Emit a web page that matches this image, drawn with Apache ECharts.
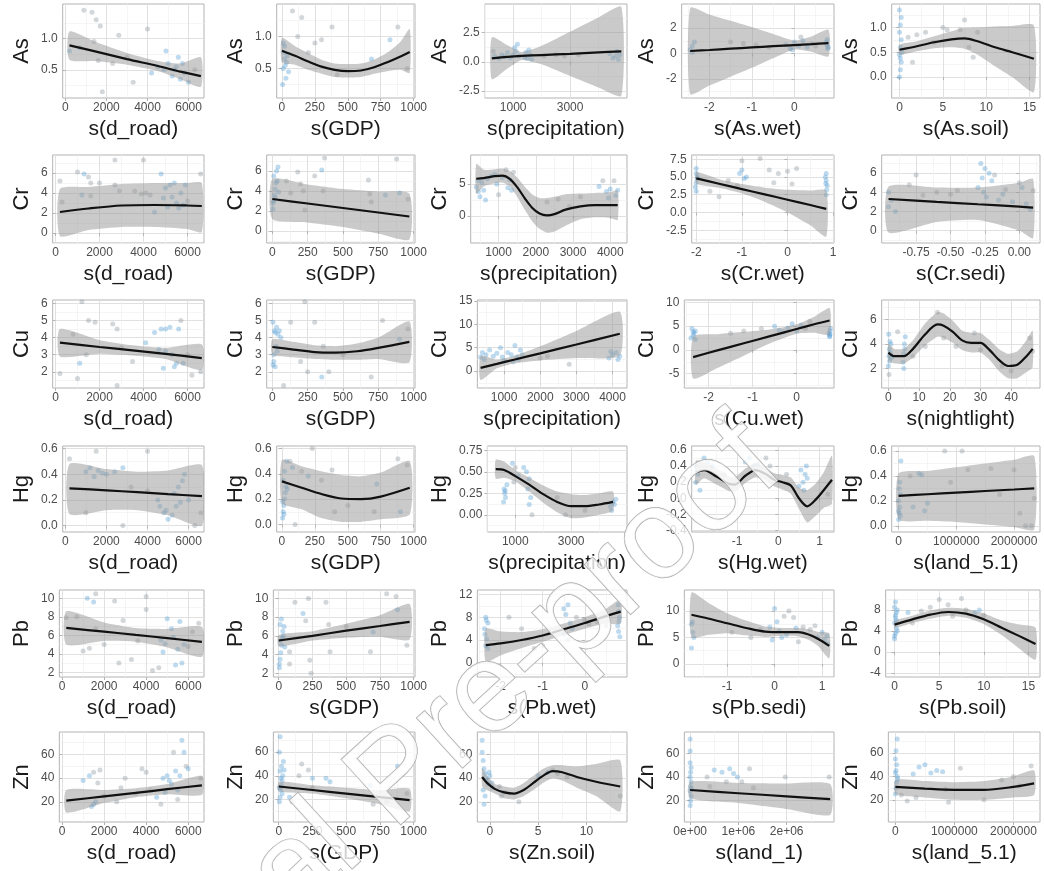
<!DOCTYPE html>
<html>
<head>
<meta charset="utf-8">
<script src="https://cdn.jsdelivr.net/npm/echarts@6/dist/echarts.min.js"></script>
<style>
  html, body { margin: 0; background: #fff; }
  #chart { width: 1044px; height: 871px; }
</style>
</head>
<body>
<div id="chart"></div>
<script>
// ---- axis labels ----
const rowNames = ['As', 'Cr', 'Cu', 'Hg', 'Pb', 'Zn'];
const xNames = [
  ['s(d_road)', 's(GDP)', 's(precipitation)', 's(As.wet)', 's(As.soil)'],
  ['s(d_road)', 's(GDP)', 's(precipitation)', 's(Cr.wet)', 's(Cr.sedi)'],
  ['s(d_road)', 's(GDP)', 's(precipitation)', 's(Cu.wet)', 's(nightlight)'],
  ['s(d_road)', 's(GDP)', 's(precipitation)', 's(Hg.wet)', 's(land_5.1)'],
  ['s(d_road)', 's(GDP)', 's(Pb.wet)', 's(Pb.sedi)', 's(Pb.soil)'],
  ['s(d_road)', 's(GDP)', 's(Zn.soil)', 's(land_1)', 's(land_5.1)']
];

// ---- axis ranges and tick labels ----
const xRanges = [
  [[-130, 6750], [-40, 1010], [0, 5000], [-2.65, 0.93], [-0.9, 16.2]],
  [[-130, 6750], [-40, 1010], [250, 4450], [-2.1, 1.02], [-1.0, 0.15]],
  [[-130, 6750], [-40, 1010], [260, 4400], [-2.55, 0.85], [-2.2, 49.4]],
  [[-130, 6750], [-40, 1010], [0, 5000], [-2.1, 1.35], [-120000, 2450000]],
  [[-130, 6750], [-40, 1010], [-2.55, 1.0], [-1.9, 1.25], [-1.0, 16.3]],
  [[-130, 6750], [-40, 1010], [-1.3, 14.2], [-120000, 2980000], [-120000, 2450000]]
];
const xTicks = [
  [['0','2000','4000','6000'], ['0','250','500','750','1000'], ['1000','3000'], ['-2','-1','0'], ['0','5','10','15']],
  [['0','2000','4000','6000'], ['0','250','500','750','1000'], ['1000','2000','3000','4000'], ['-2','-1','0','1'], ['-0.75','-0.50','-0.25','0.00']],
  [['0','2000','4000','6000'], ['0','250','500','750','1000'], ['1000','2000','3000','4000'], ['-2','-1','0'], ['0','10','20','30','40']],
  [['0','2000','4000','6000'], ['0','250','500','750','1000'], ['1000','3000'], ['-1','0','1'], ['0','1000000','2000000']],
  [['0','2000','4000','6000'], ['0','250','500','750','1000'], ['-2','-1','0'], ['-1','0','1'], ['0','5','10','15']],
  [['0','2000','4000','6000'], ['0','250','500','750','1000'], ['0','5','10'], ['0e+00','1e+06','2e+06'], ['0','1000000','2000000']]
];
const yRanges = [
  [[0.05, 1.55], [0.04, 1.51], [-3.1, 4.95], [-3.5, 3.9], [-0.42, 1.47]],
  [[-1.0, 7.8], [-1.2, 7.6], [-4.2, 9.5], [-4.3, 8.1], [-1.3, 7.9]],
  [[1.05, 6.2], [1.05, 6.2], [-3.6, 15.2], [-8.0, 10.5], [0.4, 7.6]],
  [[-0.05, 0.62], [-0.06, 0.62], [-0.2, 0.8], [-0.42, 0.65], [-0.05, 0.64]],
  [[1.5, 10.9], [1.6, 10.9], [-2.5, 12.8], [-2.5, 14], [-4.8, 11.8]],
  [[3, 79], [1, 77], [3, 79], [2, 78], [1, 78]]
];
const yTicks = [
  [['0.5','1.0'], ['0.5','1.0'], ['-2.5','0.0','2.5'], ['-2','0','2'], ['0.0','0.5','1.0']],
  [['0','2','4','6'], ['0','2','4','6'], ['0','5'], ['-2.5','0.0','2.5','5.0','7.5'], ['0','2','4','6']],
  [['2','3','4','5','6'], ['2','3','4','5','6'], ['0','5','10','15'], ['-5','0','5','10'], ['2','4','6']],
  [['0.0','0.2','0.4','0.6'], ['0.0','0.2','0.4','0.6'], ['0.00','0.25','0.50','0.75'], ['-0.4','-0.2','0.0','0.2','0.4','0.6'], ['0.0','0.2','0.4','0.6']],
  [['2','4','6','8','10'], ['2','4','6','8','10'], ['0','4','8','12'], ['0','5','10'], ['-4','0','4','8']],
  [['20','40','60'], ['20','40','60'], ['20','40','60'], ['20','40','60'], ['20','40','60']]
];

// ---- smooth terms: [x, fit, lower, upper] ----
const asRoadFit = [[200,0.89,0.66,1.11],[1500,0.79,0.64,0.94],[3000,0.67,0.58,0.77],[4500,0.56,0.48,0.64],[5600,0.47,0.35,0.60],[6600,0.40,0.23,0.70]];
const asGdpFit = [[0,0.78,0.6,0.98],[100,0.70,0.56,0.85],[200,0.61,0.48,0.74],[300,0.53,0.42,0.64],[400,0.48,0.37,0.58],[500,0.46,0.36,0.57],[600,0.47,0.37,0.58],[700,0.52,0.42,0.64],[800,0.6,0.46,0.75],[900,0.69,0.48,0.92],[970,0.76,0.43,1.12]];
const asPrecFit = [[250,0.30,-1.50,2.10],[800,0.42,-0.58,1.42],[1300,0.50,0.15,0.85],[2000,0.58,-0.22,1.38],[3000,0.68,-1.22,2.58],[4000,0.80,-2.20,3.80],[4800,0.90,-2.90,4.70]];
const asWetFit = [[-2.45,0.2,-3.2,3.6],[-2,0.28,-2.52,3.08],[-1.5,0.38,-1.82,2.58],[-1,0.48,-1.12,2.08],[-0.5,0.58,-0.37,1.53],[0,0.67,0.32,1.02],[0.4,0.74,0.14,1.34],[0.8,0.82,-0.23,1.87]];
const asSoilFit = [[0,0.55,0.45,0.65],[2,0.62,0.52,0.72],[4,0.70,0.58,0.82],[6,0.76,0.6,0.92],[7.5,0.78,0.57,0.99],[9,0.72,0.45,1.0],[11,0.6,0.22,1.02],[13,0.5,0.0,1.03],[15.5,0.37,-0.3,1.04]];

const crRoadFit = [[200,2.1,-0.3,4.4],[1500,2.45,0.3,4.6],[3000,2.75,0.6,4.9],[4500,2.8,0.6,5.0],[6000,2.75,0.4,5.0],[6650,2.7,0.1,5.0]];
const crGdpFit = [[0,3.2,1.2,5.2],[250,2.75,0.85,4.65],[500,2.3,0.4,4.2],[750,1.85,-0.25,3.95],[970,1.45,-0.85,3.75]];
const crPrecFit = [[400,5.8,3.5,8.1],[600,5.9,4.6,7.2],[900,6.2,5.1,7.3],[1100,6.3,5.2,7.4],[1300,5.8,4.6,7.0],[1500,4.5,3.0,6.0],[1700,2.8,1.0,4.6],[1900,1.3,-0.8,3.4],[2100,0.4,-2.0,2.8],[2300,0.1,-2.6,2.8],[2500,0.3,-2.4,3.0],[2800,1.0,-1.5,3.4],[3200,1.5,-0.5,3.5],[3600,1.7,-0.2,3.6],[4000,1.7,-0.3,3.7],[4200,1.7,-0.6,4.0]];
const crWetFit = [[-2,4.8,4.1,5.7],[-1.5,4.05,3.5,4.7],[-1,3.3,2.7,4.0],[-0.5,2.55,1.5,3.5],[0,1.8,0.0,3.2],[0.5,1.05,-1.8,3.1],[0.85,0.5,-3.4,3.1]];
const crSediFit = [[-0.95,3.3,-0.2,4.6],[-0.6,3.0,0.9,4.5],[-0.3,2.75,1.1,4.5],[0,2.5,0.0,5.0],[0.1,2.4,-0.8,5.4]];

const cuRoadFit = [[200,3.7,2.9,4.5],[2000,3.45,3.05,3.85],[3500,3.25,2.95,3.55],[5000,3.05,2.75,3.4],[6650,2.8,2.1,3.6]];
const cuGdpFit = [[0,3.45,3.0,3.9],[150,3.3,2.85,3.75],[300,3.15,2.75,3.55],[450,3.12,2.7,3.5],[600,3.2,2.7,3.65],[750,3.4,2.75,4.0],[970,3.75,2.55,4.95]];
const cuPrecFit = [[350,0.7,-1.9,3.3],[800,1.55,0.6,2.5],[1300,2.5,1.7,3.3],[2000,3.8,2.3,5.3],[3000,5.7,2.8,8.6],[4200,8.0,3.3,12.7]];
const cuWetFit = [[-2.35,-1.5,-6.0,2.8],[-1.8,-0.1,-3.8,3.3],[-1.2,1.4,-1.2,3.8],[-0.6,2.9,1.4,4.3],[0,4.4,3.4,5.4],[0.4,5.4,3.6,7.0],[0.75,6.2,3.2,8.8]];
const cuNightFit = [[0,3.3,2.6,4.0],[2,3.0,2.4,3.6],[5,3.0,2.4,3.6],[8,3.6,2.9,4.3],[12,4.8,3.9,5.7],[16,5.6,4.6,6.6],[18,5.5,4.5,6.5],[21,5.0,4.1,5.9],[24,4.3,3.5,5.1],[27,4.1,3.3,4.9],[30,4.1,3.3,4.9],[33,3.5,2.7,4.3],[36,2.7,1.8,3.6],[39,2.2,1.2,3.2],[42,2.3,1.2,3.4],[45,3.0,1.7,4.3],[47,3.6,2.1,5.1]];

const hgRoadFit = [[200,0.29,0.09,0.48],[2000,0.275,0.12,0.44],[3500,0.26,0.12,0.42],[5000,0.245,0.08,0.43],[6650,0.23,0.0,0.47]];
const hgGdpFit = [[0,0.34,0.17,0.51],[150,0.29,0.12,0.46],[300,0.24,0.05,0.42],[450,0.205,0.02,0.39],[600,0.2,0.02,0.38],[750,0.22,0.04,0.41],[970,0.29,0.08,0.5]];
const hgPrecFit = [[300,0.53,0.42,0.64],[600,0.52,0.43,0.62],[1000,0.45,0.39,0.52],[1500,0.35,0.27,0.43],[2000,0.24,0.14,0.34],[2500,0.15,0.03,0.27],[3000,0.1,-0.04,0.24],[3500,0.1,-0.03,0.23],[4000,0.12,0.0,0.25],[4500,0.15,0.05,0.27]];
const hgWetFit = [[-2.0,0.32,0.17,0.47],[-1.8,0.35,0.25,0.45],[-1.5,0.27,0.17,0.37],[-1.2,0.18,0.09,0.27],[-1.05,0.17,0.08,0.26],[-0.8,0.28,0.19,0.37],[-0.55,0.35,0.26,0.44],[-0.3,0.3,0.22,0.38],[-0.1,0.23,0.15,0.31],[0.1,0.2,0.11,0.29],[0.3,0.16,0.06,0.26],[0.5,0.0,-0.13,0.13],[0.7,-0.1,-0.3,0.1],[0.9,-0.02,-0.22,0.18],[1.1,0.1,-0.12,0.32],[1.3,0.23,-0.07,0.53]];
const hgLandFit = [[0,0.24,0.05,0.42],[500000,0.253,0.04,0.44],[1000000,0.266,0.03,0.47],[1500000,0.279,0.01,0.5],[2000000,0.291,-0.01,0.53],[2350000,0.3,-0.03,0.56]];

const pbRoadFit = [[200,6.8,5.0,8.6],[2000,6.4,5.4,7.4],[3500,6.05,5.3,6.8],[5000,5.7,4.7,6.7],[6650,5.3,3.7,6.9]];
const pbGdpFit = [[0,5.5,4.9,6.1],[250,6.0,5.5,6.5],[500,6.55,5.8,7.3],[750,7.05,5.9,8.2],[970,7.5,5.6,9.4]];
const pbWetFit = [[-2.35,3.1,0.2,6.0],[-2,3.4,1.3,5.5],[-1.5,4.0,2.6,5.4],[-1,4.8,3.7,5.9],[-0.5,5.9,4.9,6.9],[0,7.0,6.0,8.0],[0.5,8.2,6.9,9.5],[0.85,9.0,6.9,11.1]];
const pbSediFit = [[-1.75,9.3,5.0,13.5],[-1.4,8.6,5.5,11.6],[-1.0,7.7,5.8,9.6],[-0.6,6.8,5.4,8.2],[-0.2,6.1,5.1,7.1],[0.2,6.0,5.3,6.8],[0.5,6.0,5.2,6.8],[0.7,5.6,4.6,6.6],[0.9,4.8,3.5,6.1],[1.15,3.4,1.0,5.8]];
const pbSoilFit = [[0,5.2,4.6,5.9],[2,6.2,5.5,6.9],[4,7.1,6.3,7.9],[6,7.6,6.9,8.4],[8,7.3,6.5,8.2],[10,6.2,5.3,7.3],[12,4.6,3.2,6.0],[14,3.0,0.6,5.2],[15.8,1.5,-1.5,4.6]];

const znRoadFit = [[200,21,11,30],[2000,24.6,19,30],[3500,27.6,24,31.5],[5000,30.7,26.5,35],[6650,34,26,42]];
const znGdpFit = [[0,31,27,35],[250,28,25,32],[500,25,21,30],[750,22,16,28],[970,19.5,10,29]];
const znSoilFit = [[-0.8,41,33,49],[-0.3,36,30,42],[0.5,31,27,35],[1.5,28,23,33],[2.5,27,22,32],[3.5,30,25,36],[4.5,36,30,42],[5.5,42,36,48],[6.5,46,40,51],[7.5,45,38,51],[9,41,32,50],[11,37,25,52],[13.5,33,12,55]];
const znLand1Fit = [[0,29,22,36],[1000000,26.3,18,35],[2000000,23.7,13,34.5],[2900000,21.3,8,34]];
const znLand5Fit = [[0,31,25,37],[500000,29.5,22,36],[1000000,28.5,20,35],[1500000,28.5,20,36],[2000000,31,22,40],[2350000,34,24,45]];

// ---- partial residuals: [x, y, group] (group 1 = blue, 0 = grey) ----
const asRoadPts = [[900,1.45,0],[1300,1.42,0],[1500,1.3,0],[1700,1.2,0],[2600,1.05,0],[4000,1.15,0],[1400,0.95,0],[700,0.85,1],[1600,0.65,0],[2300,0.6,0],[3300,0.3,0],[4500,0.55,1],[4800,0.5,1],[5000,0.6,1],[5200,0.4,1],[5400,0.55,1],[5600,0.35,1],[5800,0.45,1],[6000,0.3,1],[4900,0.8,1],[5500,0.7,1],[6300,0.5,0],[1800,0.15,0],[4200,0.45,1],[3000,0.7,0],[5700,0.6,1],[5300,0.5,1],[200,0.8,1]];
const asGdpPts = [[80,1.4,0],[150,1.3,0],[120,1.0,0],[300,0.95,0],[380,1.15,0],[250,0.9,0],[680,0.65,1],[880,1.15,0],[820,0.95,1],[950,0.5,0],[420,0.4,0],[200,0.75,0],[10,0.9,1],[15,0.75,1],[20,0.65,1],[25,0.55,1],[10,0.5,1],[30,0.35,1],[5,0.25,1],[40,0.7,1],[20,0.85,1],[35,0.6,1],[50,0.45,1]];
const asPrecPts = [[350,0.5,1],[500,0.3,1],[600,0.6,1],[700,0.45,1],[800,0.8,1],[900,0.35,1],[1000,0.6,1],[1050,1.2,1],[1100,0.9,1],[1150,1.5,1],[1200,0.5,1],[1400,0.4,1],[1450,0.8,1],[1500,0.3,1],[1550,1.0,1],[1600,0.6,1],[1650,0.2,1],[2100,0.5,0],[2500,0.6,0],[2800,0.5,0],[3300,0.6,0],[4400,0.7,1],[4500,0.3,1],[4600,0.5,1],[4650,0.9,1],[4700,0.2,1],[4750,0.6,1],[300,0.9,0]];
const asWetPts = [[-2.4,0.6,1],[-2.45,0.3,1],[-2.35,0.9,1],[-2.4,0.1,1],[-1.5,0.9,0],[-1.2,0.8,0],[-0.9,0.7,0],[-0.6,0.5,0],[-0.2,0.7,1],[-0.1,0.4,1],[0,0.9,1],[0.1,0.6,1],[0.2,1.0,1],[-0.05,0.3,1],[0.3,0.5,1],[0.4,0.8,0],[0.15,1.3,0],[0.5,0.6,0],[0.75,0.9,1],[0.78,0.4,1],[0.76,0.7,1],[0.8,0.5,1],[0.77,1.1,1]];
const asSoilPts = [[0,0.0,1],[0.1,0.15,1],[0.2,0.3,1],[0,0.45,1],[0.1,0.6,1],[0.2,0.75,1],[0,0.9,1],[0.1,1.05,1],[0.2,1.2,1],[0,1.35,1],[0.3,0.5,1],[0.1,0.38,1],[1,0.8,0],[2,0.85,0],[3,0.9,0],[5,1.0,0],[5.5,0.95,0],[7.5,1.15,0],[7,0.95,0],[8,0.6,0],[9,0.9,0],[8.5,0.4,0],[1.5,0.3,0],[4,0.7,0]];

const crRoadPts = [[1000,6.1,0],[1300,5.9,1],[1500,5.6,0],[1600,5.0,0],[2000,5.0,0],[1200,3.8,1],[1600,3.7,0],[2700,7.3,0],[4000,7.3,0],[2700,4.8,0],[2900,4.2,0],[3600,4.2,0],[3900,3.9,0],[4100,4.0,0],[4500,2.1,1],[4800,5.9,1],[4900,3.5,1],[5000,4.5,1],[5200,4.8,1],[5300,3.6,1],[5500,3.0,1],[5600,2.5,1],[5700,4.0,1],[5800,2.8,1],[6000,3.2,0],[6600,5.9,0],[5100,2.6,1],[200,5.2,0],[300,3.1,0],[4300,3.8,0],[5400,5.0,1],[5900,4.8,1]];
const crGdpPts = [[5,2.2,1],[10,3.0,1],[15,3.6,1],[20,4.2,1],[25,4.8,1],[10,5.5,1],[30,6.0,1],[40,6.4,1],[5,2.8,1],[20,3.3,1],[35,5.0,1],[45,3.9,1],[100,5.0,0],[180,5.9,0],[200,4.7,0],[230,2.1,0],[300,5.5,0],[350,6.1,1],[360,4.0,0],[370,7.3,0],[680,5.1,0],[690,3.7,0],[700,2.9,0],[800,3.6,1],[880,7.2,0],[900,3.8,1],[960,3.2,0],[220,4.0,0],[130,3.8,0]];
const crPrecPts = [[400,4.5,1],[450,3.8,1],[500,3.0,1],[550,5.2,1],[600,4.0,1],[650,2.5,1],[700,5.8,1],[450,5.5,1],[800,6.2,1],[900,6.5,1],[950,5.0,1],[1000,3.3,0],[1100,6.0,1],[1200,7.2,0],[1300,5.6,1],[1250,4.4,1],[1400,6.8,0],[1350,4.0,1],[2300,2.2,0],[2600,2.6,0],[2900,1.5,0],[3200,3.0,0],[3700,4.6,1],[3800,5.5,0],[3900,3.8,1],[4000,4.2,1],[4100,5.5,0],[4150,3.2,1],[3950,2.8,1],[4200,4.0,1]];
const crWetPts = [[-2,6.2,1],[-2,5.5,1],[-1.98,4.8,1],[-2,4.2,1],[-2.02,3.6,1],[-1.97,5.0,1],[-2,3.0,1],[-1.5,2.2,0],[-1.7,3.0,0],[-1.3,4.5,0],[-1,7.3,0],[-1.05,5.5,1],[-0.95,4.8,1],[-1,6.0,1],[-1.1,3.8,0],[-0.9,5.0,1],[-0.6,7.6,0],[-0.4,6.0,0],[-0.2,5.5,0],[0,5.8,0],[0.2,6.2,0],[-0.3,4.2,0],[0.1,4.0,0],[0.85,5.5,1],[0.85,4.5,1],[0.87,3.8,1],[0.83,5.0,1],[0.86,3.2,1],[0.85,2.5,1],[0.84,4.1,1]];
const crSediPts = [[-0.95,4.0,1],[-0.95,2.5,1],[-0.93,3.2,1],[-0.9,2.0,1],[-0.8,4.8,0],[-0.75,5.8,0],[-0.7,3.7,0],[-0.6,4.0,0],[-0.5,3.8,0],[-0.45,4.2,0],[-0.28,7.0,1],[-0.25,6.5,1],[-0.27,5.5,1],[-0.22,6.0,1],[-0.3,4.5,1],[-0.26,4.0,1],[-0.24,3.5,1],[-0.2,5.2,1],[-0.18,5.8,0],[-0.15,3.2,1],[-0.12,3.8,1],[-0.1,4.3,0],[0,5.0,0],[0.02,4.5,1],[0.05,2.8,1],[-0.05,3.0,1],[0.1,4.2,0],[0.08,2.2,1]];

const cuRoadPts = [[1200,6.1,0],[1500,5.0,0],[1800,4.9,0],[2600,4.8,0],[2800,4.5,0],[800,4.2,0],[1000,1.6,0],[1100,2.5,1],[2800,1.2,0],[200,1.9,0],[1400,3.0,0],[4500,4.3,1],[4800,4.5,1],[5000,4.5,1],[5200,4.6,1],[5600,4.5,1],[5700,5.0,0],[5000,3.2,1],[5300,3.0,1],[5500,2.5,1],[5800,2.5,1],[6000,3.0,0],[4700,3.3,1],[6600,2.0,0],[4100,3.7,1],[3500,2.6,0],[5400,2.3,1],[4900,2.2,1],[6200,1.8,0],[3000,3.4,0]];
const cuGdpPts = [[5,2.4,1],[10,3.0,1],[15,4.4,1],[20,4.3,1],[25,3.5,1],[30,4.6,1],[40,4.2,1],[50,4.4,1],[10,2.6,1],[20,2.3,1],[35,3.2,1],[60,4.0,1],[5,4.9,1],[80,1.2,0],[130,4.9,0],[200,2.6,0],[230,6.1,0],[300,4.9,0],[350,1.7,1],[360,3.5,0],[400,2.0,0],[700,1.7,0],[780,5.0,0],[900,3.9,1],[960,4.5,0],[250,2.0,0],[500,3.0,0]];
const cuPrecPts = [[350,3.0,1],[400,4.0,1],[450,2.5,1],[500,3.5,1],[600,4.5,1],[700,3.2,1],[800,3.8,1],[900,5.0,1],[950,3.0,1],[1000,2.2,1],[1100,4.0,1],[1200,3.5,1],[1300,5.5,1],[1250,2.0,1],[1350,3.0,1],[1400,2.5,1],[1500,3.5,1],[1450,4.5,1],[2000,2.8,0],[2200,3.2,0],[2800,1.5,0],[3900,2.8,1],[4000,3.5,1],[4100,4.0,1],[4150,2.5,1],[4200,3.2,1],[3950,4.2,1]];
const cuWetPts = [[-2.35,3.0,1],[-2.3,4.0,1],[-2.4,2.5,1],[-2.33,3.5,1],[-2.38,4.5,1],[-2.3,2.2,1],[-2.35,3.8,1],[-1.5,3.5,0],[-1.2,4.0,0],[-0.8,4.5,0],[-0.5,5.0,1],[-0.3,3.8,1],[-0.2,4.6,1],[-0.1,5.5,1],[0,4.0,1],[0.1,5.2,1],[0.2,4.5,0],[0.3,6.0,0],[-0.4,4.2,1],[0.75,3.0,1],[0.76,4.0,1],[0.74,3.5,1],[0.77,4.5,1],[0.75,2.8,1],[0.76,3.3,1]];
const cuNightPts = [[0,2.2,1],[0.2,3.0,1],[0.3,3.6,1],[0.5,4.2,1],[0.1,4.8,1],[0.4,2.6,1],[0.6,3.3,1],[0.8,4.0,1],[1,2.9,1],[0.2,1.5,0],[4.8,2.5,1],[5,3.2,1],[5.2,4.0,1],[5.5,4.6,1],[5,2.0,1],[5.3,3.6,1],[3,5.0,0],[8,3.0,0],[16,6.6,0],[18,4.5,0],[22,3.8,0],[28,4.9,0],[30,3.5,0],[37,2.2,0],[40,1.8,0],[46,4.5,0],[47,3.4,0],[12,3.8,0]];

const hgRoadPts = [[200,0.52,0],[1000,0.42,1],[1200,0.45,1],[1400,0.38,1],[1600,0.43,1],[1800,0.41,1],[2000,0.40,1],[2400,0.42,1],[2800,0.45,1],[3200,0.3,0],[1000,0.1,0],[2800,0.0,0],[4000,0.58,0],[4000,0.27,0],[4500,0.2,1],[4600,0.15,1],[4800,0.1,1],[5000,0.05,1],[5200,0.08,1],[5300,0.25,1],[5500,0.3,1],[5700,0.35,1],[5800,0.4,1],[5600,0.18,1],[6000,0.2,1],[6600,0.1,0],[4900,0.12,1],[5400,0.15,1],[6300,0.0,0],[1500,0.58,0]];
const hgGdpPts = [[5,0.05,1],[10,0.1,1],[15,0.15,1],[20,0.2,1],[25,0.25,1],[30,0.3,1],[10,0.35,1],[20,0.42,1],[35,0.5,1],[5,0.18,1],[15,0.08,1],[40,0.28,1],[60,0.5,0],[80,0.45,1],[150,0.42,0],[200,0.38,1],[230,0.6,0],[300,0.35,0],[380,0.43,0],[400,0.1,0],[700,0.1,0],[720,0.32,1],[900,0.1,1],[950,0.47,0],[880,0.52,0],[100,0.0,0],[500,0.15,0]];
const hgPrecPts = [[600,0.3,1],[620,0.25,1],[650,0.2,1],[580,0.15,1],[700,0.35,1],[640,0.28,1],[900,0.6,1],[1000,0.55,0],[1100,0.45,1],[950,0.38,0],[1400,0.5,1],[1500,0.42,1],[1450,0.3,1],[1550,0.2,1],[1500,0.12,1],[1600,0.0,0],[1300,0.55,1],[2500,0.2,0],[2800,0.0,0],[3500,0.05,0],[4400,0.1,1],[4500,0.15,1],[4600,0.18,1],[4450,0.05,1],[4550,0.12,1]];
const hgWetPts = [[-2.0,0.2,1],[-1.95,0.3,1],[-2.0,0.4,1],[-1.9,0.1,1],[-1.8,0.5,1],[-1.7,0.45,1],[-1.6,0.4,1],[-0.8,0.45,1],[-0.7,0.5,1],[-0.6,0.4,1],[-0.5,0.42,1],[0.5,0.15,1],[0.6,0.2,1],[0.65,0.3,1],[0.7,0.25,1],[0.62,0.1,1],[0.55,0.35,1],[0.68,0.4,1],[-1.3,0.3,0],[-0.2,0.4,0],[0.2,0.3,0],[-0.3,0.5,0],[1.2,0.05,0]];
const hgLandPts = [[0,0.05,1],[10000,0.1,1],[20000,0.15,1],[0,0.2,1],[30000,0.25,1],[10000,0.3,1],[20000,0.35,1],[40000,0.52,1],[0,0.12,1],[30000,0.08,1],[200000,0.4,0],[350000,0.42,1],[400000,0.41,1],[250000,0.15,1],[450000,0.12,1],[500000,0.18,1],[900000,0.35,0],[1100000,0.6,0],[1200000,0.45,0],[1600000,0.46,0],[1750000,0.25,0],[2000000,0.45,0],[2100000,0.1,0],[2200000,0.0,0],[2350000,0.22,0],[800000,0.6,0],[2300000,0.0,0]];

const pbRoadPts = [[1200,10.0,1],[1500,9.6,1],[1600,10.5,0],[2500,9.7,0],[4000,10.2,0],[4000,8.8,0],[700,8.0,0],[1000,4.3,0],[1300,4.6,0],[1600,6.7,0],[2000,5.0,0],[2700,3.0,0],[2900,7.6,0],[3300,3.4,0],[3600,5.4,0],[4300,2.2,0],[4600,2.5,0],[4700,5.5,1],[4900,5.1,1],[5000,7.8,1],[5200,6.7,1],[5300,5.8,1],[5500,4.5,1],[5600,7.5,1],[5700,3.0,1],[5800,5.0,1],[6000,4.8,0],[6200,6.4,0],[6500,7.3,0],[4800,4.2,1],[5400,2.8,1],[200,7.9,0]];
const pbGdpPts = [[5,2.6,1],[10,3.5,1],[15,4.2,1],[20,5.0,1],[25,5.8,1],[30,6.5,1],[10,7.2,1],[20,7.8,1],[35,6.0,1],[45,4.8,1],[5,3.0,1],[40,7.0,1],[15,5.5,1],[80,4.3,0],[80,3.0,0],[120,9.6,0],[180,8.4,1],[200,7.6,0],[220,10.0,0],[230,3.4,0],[240,2.0,0],[350,9.6,0],[380,4.3,0],[370,7.2,0],[680,4.3,0],[700,6.4,1],[800,10.5,0],[870,10.2,0],[950,5.0,0],[880,8.8,1],[500,7.0,0]];
const pbWetPts = [[-2.35,8.0,1],[-2.3,7.0,1],[-2.38,6.0,1],[-2.33,4.2,1],[-2.35,3.0,1],[-2.3,2.5,1],[-2.37,5.0,1],[-2.34,7.5,1],[-1.8,8.0,0],[-1.5,6.0,0],[-1.2,2.5,0],[-1.0,3.0,0],[-0.5,9.5,1],[-0.4,10.2,1],[-0.45,8.5,1],[-0.35,7.0,1],[-0.3,6.0,1],[-0.5,5.0,1],[-0.4,4.0,1],[-0.2,8.0,0],[0,7.5,0],[0.1,6.8,0],[0.3,7.2,0],[0.5,6.5,0],[0.8,9.0,1],[0.82,8.0,1],[0.78,6.5,1],[0.8,5.5,1],[0.83,4.6,1],[0.79,10.2,1],[0.81,7.3,1]];
const pbSediPts = [[-1.75,7.5,1],[-1.72,6.0,1],[-1.75,3.0,1],[-1.7,5.0,1],[-1.73,8.0,1],[-0.9,6.0,0],[-0.5,5.0,0],[-0.3,6.5,0],[0,10.5,1],[0.05,8.0,1],[-0.1,7.0,1],[0.1,6.2,1],[0.2,9.0,0],[0.3,10.0,0],[0.4,8.8,0],[0.25,5.5,1],[0.45,6.8,1],[0.6,7.0,0],[0.75,6.5,0],[0.85,7.2,0],[0.9,5.0,1],[1.0,6.0,1],[1.05,4.5,1],[1.1,5.3,1],[1.12,3.8,1],[-0.05,4.5,1],[0.15,5.0,1],[0.5,4.2,0]];
const pbSoilPts = [[0,2.5,1],[0.1,3.5,1],[0.2,4.5,1],[0,5.5,1],[0.1,6.5,1],[0.2,7.5,1],[0,8.5,1],[0.1,9.5,1],[0.3,4.0,1],[0.2,6.0,1],[0.1,7.0,1],[0,3.0,1],[0.3,8.0,1],[1.5,7.5,1],[2,5.5,0],[3,7.8,0],[4,8.5,0],[5,10.0,0],[6,9.0,0],[7.5,10.2,0],[8,8.0,0],[9,7.5,1],[9.5,8.0,1],[10,7.0,0],[6.5,6.8,0]];

const znRoadPts = [[1000,38,1],[1300,42,1],[1500,45,0],[1400,16,1],[1500,18,1],[1600,20,1],[1700,36,0],[1800,47,0],[2600,20,0],[2800,32,0],[3000,40,0],[3800,48,0],[4000,45,0],[4200,30,0],[4500,24,1],[4700,18,0],[4800,40,1],[5000,42,1],[5100,38,1],[5200,35,1],[5300,62,0],[5500,30,1],[5600,42,1],[5700,72,1],[5800,62,1],[5900,50,0],[6000,48,1],[5500,22,0],[6600,40,0],[4900,28,1],[5400,46,1],[3500,27,0],[2000,25,0]];
const znGdpPts = [[5,18,1],[10,22,1],[15,28,1],[20,32,1],[25,36,1],[30,40,1],[10,44,1],[20,48,1],[35,52,1],[5,30,1],[15,38,1],[25,25,1],[40,45,1],[5,60,1],[10,73,1],[80,22,1],[100,18,0],[150,40,0],[170,50,0],[220,45,0],[250,30,0],[250,38,1],[350,38,1],[380,35,1],[680,32,1],[700,16,0],[800,18,0],[880,48,1],[950,25,0]];
const znSoilPts = [[-0.8,62,1],[-0.7,55,1],[-0.6,48,1],[-0.5,44,1],[-0.4,40,1],[-0.3,38,1],[-0.2,35,1],[-0.7,30,1],[-0.5,25,1],[-0.6,18,1],[0,42,1],[0.2,36,1],[0.3,32,1],[-0.1,45,1],[1,33,0],[1.5,28,0],[3,20,0],[5,42,1],[6,45,1],[6.5,47,0],[7,44,0],[8,41,0],[13.5,25,0],[1.2,25,0],[-0.8,72,1]];
const znLand1Pts = [[0,16,1],[10000,20,1],[20000,24,1],[0,28,1],[10000,32,1],[20000,36,1],[0,40,1],[10000,44,1],[20000,48,1],[0,52,1],[30000,30,1],[0,62,1],[0,72,1],[350000,40,0],[500000,46,1],[660000,44,1],[750000,36,0],[820000,47,1],[900000,43,1],[1070000,36,0],[1230000,47,0],[1310000,31,0],[1970000,40,0],[2880000,40,0],[410000,32,0],[980000,40,1]];
const znLand5Pts = [[0,25,1],[10000,30,1],[20000,35,1],[30000,40,1],[10000,45,1],[20000,50,1],[0,55,1],[10000,62,1],[30000,72,1],[40000,38,1],[0,43,1],[100000,24,0],[200000,19,0],[300000,42,1],[350000,22,0],[400000,48,1],[500000,50,1],[600000,43,1],[700000,45,1],[800000,44,1],[850000,29,0],[1100000,47,0],[1500000,20,0],[1800000,37,0],[2000000,40,0],[2100000,32,0],[2300000,49,0],[900000,18,0]];

const fits = [
  [asRoadFit, asGdpFit, asPrecFit, asWetFit, asSoilFit],
  [crRoadFit, crGdpFit, crPrecFit, crWetFit, crSediFit],
  [cuRoadFit, cuGdpFit, cuPrecFit, cuWetFit, cuNightFit],
  [hgRoadFit, hgGdpFit, hgPrecFit, hgWetFit, hgLandFit],
  [pbRoadFit, pbGdpFit, pbWetFit, pbSediFit, pbSoilFit],
  [znRoadFit, znGdpFit, znSoilFit, znLand1Fit, znLand5Fit]
];
const points = [
  [asRoadPts, asGdpPts, asPrecPts, asWetPts, asSoilPts],
  [crRoadPts, crGdpPts, crPrecPts, crWetPts, crSediPts],
  [cuRoadPts, cuGdpPts, cuPrecPts, cuWetPts, cuNightPts],
  [hgRoadPts, hgGdpPts, hgPrecPts, hgWetPts, hgLandPts],
  [pbRoadPts, pbGdpPts, pbWetPts, pbSediPts, pbSoilPts],
  [znRoadPts, znGdpPts, znSoilPts, znLand1Pts, znLand5Pts]
];

// ---- layout (pixels) ----
const colStarts = [5, 219, 423, 630, 834];
const colRights = [204, 415, 627, 834, 1040];
const rowTops = [4, 155, 300, 446, 590, 732];
const rowBottoms = [98, 243, 388, 532, 677, 822];

const FONT = '"Liberation Sans", Arial, sans-serif';
const ctx = document.createElement('canvas').getContext('2d');
ctx.font = '12px ' + FONT;
const textW = s => ctx.measureText(s).width;

// midpoints between breaks, for the minor grid
function minorOf(ticks, lo, hi) {
  const v = ticks.map(Number);
  const d = v.length > 1 ? v[1] - v[0] : (hi - lo) / 2;
  let t = v[0] - d / 2;
  while (t - d >= lo) t -= d;
  const out = [];
  for (; t <= hi; t += d) if (t >= lo) out.push(t);
  return out;
}
const labelOf = (ticks, v) => {
  const s = ticks.find(t => Math.abs(Number(t) - v) < 1e-9 * Math.max(1, Math.abs(v)));
  return s === undefined ? '' : s;
};

// confidence band drawn as one polygon through the axis scales
const bandSeries = (band, xi, yi) => ({
  type: 'custom', xAxisIndex: xi, yAxisIndex: yi, silent: true, z: 3,
  data: band.map(f => [f[0], f[2], f[3]]),
  encode: { x: 0, y: [1, 2] },
  renderItem: (params, api) => {
    if (params.dataIndex !== 0) return null;
    const up = band.map(f => api.coord([f[0], f[3]]));
    const lo = band.map(f => api.coord([f[0], f[2]])).reverse();
    const cs = params.coordSys;
    return {
      type: 'polygon',
      shape: { points: up.concat(lo), smooth: 0.2 },
      style: { fill: 'rgba(150,150,150,0.5)' },
      clipPath: { type: 'rect', shape: { x: cs.x, y: cs.y, width: cs.width, height: cs.height } }
    };
  }
});

const grids = [], xAxes = [], yAxes = [], series = [];
let k = 0;
for (let r = 0; r < 6; r++) {
  for (let c = 0; c < 5; c++) {
    const xt = xTicks[r][c], yt = yTicks[r][c];
    const [x0, x1] = xRanges[r][c];
    const [y0, y1] = yRanges[r][c];
    const lw = Math.max(...yt.map(textW));
    const left = colStarts[c] + 36 + lw + 5;
    grids.push({
      left: left, top: rowTops[r],
      width: colRights[c] - left, height: rowBottoms[r] - rowTops[r],
      show: true, borderColor: '#b3b3b3', borderWidth: 1, backgroundColor: '#fff',
      outerBoundsMode: 'none'
    });
    const xv = xt.map(Number), yv = yt.map(Number);
    const xm = minorOf(xt, x0, x1), ym = minorOf(yt, y0, y1);
    xAxes.push({
      gridIndex: k, type: 'value', min: x0, max: x1, position: 'bottom',
      axisLine: { show: false },
      axisTick: { show: true, length: 3, lineStyle: { color: '#b3b3b3' }, customValues: xv },
      axisLabel: { customValues: xv, formatter: v => labelOf(xt, v), fontSize: 12, color: '#4d4d4d', margin: 4, fontFamily: FONT },
      splitLine: { show: true, lineStyle: { color: '#e0e0e0', width: 1 } },
      name: xNames[r][c], nameLocation: 'middle', nameGap: 21,
      nameTextStyle: { fontSize: 21, color: '#1a1a1a', fontFamily: FONT }
    });
    xAxes.push({
      gridIndex: k, type: 'value', min: x0, max: x1, position: 'top',
      axisLine: { show: false }, axisTick: { show: false, customValues: xm },
      axisLabel: { show: false, customValues: xm },
      splitLine: { show: true, lineStyle: { color: '#f0f0f0', width: 0.7 } }
    });
    yAxes.push({
      gridIndex: k, type: 'value', min: y0, max: y1, position: 'left',
      axisLine: { show: false },
      axisTick: { show: true, length: 3, lineStyle: { color: '#b3b3b3' }, customValues: yv },
      axisLabel: { customValues: yv, formatter: v => labelOf(yt, v), fontSize: 12, color: '#4d4d4d', margin: 5, fontFamily: FONT },
      splitLine: { show: true, lineStyle: { color: '#e0e0e0', width: 1 } },
      name: rowNames[r], nameLocation: 'middle', nameGap: lw + 13,
      nameTextStyle: { fontSize: 22, color: '#1a1a1a', fontFamily: FONT }
    });
    yAxes.push({
      gridIndex: k, type: 'value', min: y0, max: y1, position: 'right',
      axisLine: { show: false }, axisTick: { show: false, customValues: ym },
      axisLabel: { show: false, customValues: ym },
      splitLine: { show: true, lineStyle: { color: '#f0f0f0', width: 0.7 } }
    });

    const xi = 2 * k, yi = 2 * k;
    const fit = fits[r][c];
    series.push({
      type: 'scatter', xAxisIndex: xi, yAxisIndex: yi, symbolSize: 5, silent: true, z: 2,
      data: points[r][c].map(p => ({
        value: [p[0], p[1]],
        itemStyle: { color: p[2] ? 'rgba(74,152,212,0.45)' : 'rgba(125,135,145,0.42)' }
      }))
    });
    series.push(bandSeries(fit, xi, yi));
    series.push({
      type: 'line', xAxisIndex: xi, yAxisIndex: yi, symbol: 'none', smooth: 0.3, silent: true,
      lineStyle: { color: '#111', width: 2.2 }, z: 5,
      data: fit.map(f => [f[0], f[1]])
    });
    k++;
  }
}

const chart = echarts.init(document.getElementById('chart'));
chart.setOption({
  animation: false,
  backgroundColor: '#fff',
  grid: grids,
  xAxis: xAxes,
  yAxis: yAxes,
  series: series,
  graphic: [{
    type: 'text', x: 398, y: 779, rotation: 0.74, z: 100, silent: true,
    style: {
      text: 'Journal Pre-proof', fontSize: 128, fontFamily: FONT,
      fill: 'rgba(255,255,255,0.8)', stroke: '#a8a8a8', lineWidth: 1.4,
      align: 'center', verticalAlign: 'middle'
    }
  }]
});
</script>
</body>
</html>
